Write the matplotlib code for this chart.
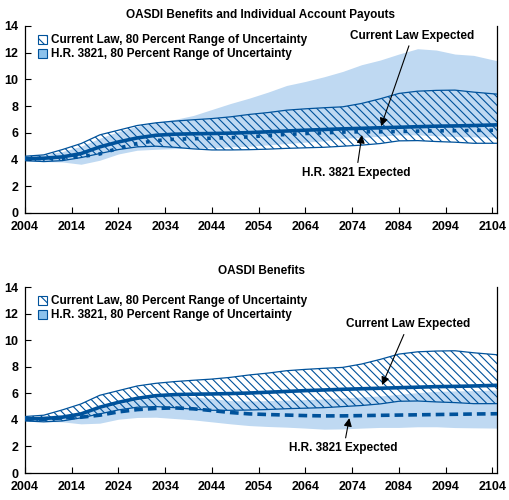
import matplotlib
matplotlib.use("Agg")
from matplotlib import pyplot as plt
from matplotlib.patches import Patch

plt.rcParams['font.family'] = ['Liberation Sans', 'DejaVu Sans']
plt.rcParams['font.weight'] = 'bold'
plt.rcParams['hatch.linewidth'] = 0.8

DARK = '#00529b'
LIGHT = '#bfd9f2'
SWATCH = '#8cc2ec'

years = [2004, 2008, 2012, 2016, 2020, 2024, 2028, 2032, 2036, 2040, 2044, 2048, 2052,
         2056, 2060, 2064, 2068, 2072, 2076, 2080, 2084, 2088, 2092, 2096, 2100, 2105]

# current law (same in both panels)
cl_mid = [4.07, 4.1, 4.2, 4.45, 4.95, 5.32, 5.62, 5.82, 5.9, 5.93, 5.95, 5.98, 6.02,
          6.08, 6.14, 6.2, 6.25, 6.3, 6.34, 6.38, 6.42, 6.46, 6.5, 6.52, 6.55, 6.6]
cl_high = [4.25, 4.35, 4.75, 5.2, 5.85, 6.2, 6.55, 6.75, 6.88, 6.98, 7.07, 7.2, 7.38,
           7.52, 7.7, 7.8, 7.88, 7.95, 8.2, 8.55, 8.95, 9.12, 9.18, 9.2, 9.05, 8.9]
cl_low = [3.92, 3.85, 3.92, 4.15, 4.45, 4.75, 4.95, 5.0, 4.92, 4.8, 4.72, 4.72, 4.74,
          4.78, 4.84, 4.88, 4.92, 5.0, 5.08, 5.2, 5.4, 5.42, 5.35, 5.3, 5.22, 5.22]

# H.R. 3821, benefits plus individual account payouts
hr_pay_mid = [4.07, 4.08, 4.1, 4.22, 4.42, 4.85, 5.2, 5.42, 5.52, 5.56, 5.6, 5.64, 5.7,
              5.8, 5.88, 5.95, 6.0, 6.06, 6.08, 6.08, 6.1, 6.13, 6.15, 6.16, 6.18, 6.2]
hr_pay_high = [4.2, 4.35, 4.6, 5.0, 5.6, 6.1, 6.5, 6.8, 7.0, 7.3, 7.75, 8.2, 8.6,
               9.05, 9.55, 9.85, 10.2, 10.6, 11.1, 11.45, 11.9, 12.3, 12.2, 11.9, 11.8, 11.4]
hr_pay_low = [3.89, 3.85, 3.82, 3.65, 3.95, 4.42, 4.7, 4.77, 4.82, 4.85, 4.9, 4.95, 5.0,
              5.1, 5.2, 5.3, 5.4, 5.6, 5.65, 5.75, 5.85, 5.85, 5.78, 5.72, 5.7, 5.7]

# H.R. 3821, benefits only
hr_ben_mid = [4.08, 4.05, 4.15, 4.2, 4.35, 4.6, 4.77, 4.86, 4.9, 4.83, 4.7, 4.55, 4.45,
              4.4, 4.36, 4.32, 4.3, 4.3, 4.32, 4.34, 4.36, 4.38, 4.4, 4.42, 4.44, 4.46]
hr_ben_high = [4.2, 4.3, 4.4, 4.55, 4.85, 5.2, 5.5, 5.7, 5.8, 5.72, 5.6, 5.45, 5.42,
               5.45, 5.48, 5.52, 5.58, 5.65, 5.72, 5.8, 5.92, 6.05, 6.15, 6.18, 6.2, 6.25]
hr_ben_low = [3.92, 3.88, 3.85, 3.7, 3.75, 4.05, 4.18, 4.2, 4.1, 4.0, 3.85, 3.7, 3.57,
              3.5, 3.45, 3.38, 3.3, 3.32, 3.38, 3.43, 3.43, 3.48, 3.48, 3.42, 3.4, 3.38]

x_ticks = list(range(2004, 2105, 10))
y_ticks = [0, 2, 4, 6, 8, 10, 12, 14]

FS = 8.5


def draw_panel(ax, hr_low, hr_high, hr_mid, hr_style, cl_note, hr_note):
    ax.fill_between(years, hr_low, hr_high, color=LIGHT, lw=0, zorder=1)
    ax.fill_between(years, cl_low, cl_high, facecolor='none', edgecolor=DARK,
                    hatch='\\\\\\\\', lw=0, zorder=2)
    ax.plot(years, cl_high, color=DARK, lw=0.9, zorder=3)
    ax.plot(years, cl_low, color=DARK, lw=0.9, zorder=3)
    ax.plot(years, hr_mid, color=DARK, lw=2.6, linestyle=hr_style,
            dash_capstyle='butt', zorder=4)
    ax.plot(years, cl_mid, color=DARK, lw=2.6, solid_capstyle='butt', zorder=5)

    ax.set_xlim(2004, 2105)
    ax.set_ylim(0, 14)
    ax.set_xticks(x_ticks)
    ax.set_yticks(y_ticks)
    ax.tick_params(direction='in', length=4.5, width=0.8, labelsize=FS + 0.5)
    ax.tick_params(axis='x', pad=6)
    ax.tick_params(axis='y', pad=5)
    ax.spines['top'].set_visible(False)
    for s in ['left', 'bottom', 'right']:
        ax.spines[s].set_linewidth(0.9)

    handles = [Patch(facecolor='white', edgecolor=DARK, hatch='\\\\\\', lw=0.8),
               Patch(facecolor=SWATCH, edgecolor=DARK, lw=0.8)]
    labels = ['Current Law, 80 Percent Range of Uncertainty',
              'H.R. 3821, 80 Percent Range of Uncertainty']
    ax.legend(handles, labels, loc='upper left', bbox_to_anchor=(0.028, 0.955),
              frameon=False, fontsize=FS, handlelength=0.75, handleheight=0.75,
              handletextpad=0.35, labelspacing=0.17, borderpad=0, borderaxespad=0)

    arrow = dict(arrowstyle='-|>', color='black', lw=0.8,
                 mutation_scale=12, shrinkA=1, shrinkB=0)
    ax.annotate('Current Law Expected', xy=cl_note[0], xytext=cl_note[1],
                ha='center', va='center', fontsize=FS, arrowprops=arrow, zorder=6)
    ax.annotate('H.R. 3821 Expected', xy=hr_note[0], xytext=hr_note[1],
                ha='center', va='center', fontsize=FS, arrowprops=arrow, zorder=6)


fig = plt.figure(figsize=(5.09, 5.0), dpi=100)
ax1 = fig.add_axes([25 / 509, 1 - 213 / 500, 472 / 509, 187 / 500])
ax2 = fig.add_axes([25 / 509, 1 - 473 / 500, 472 / 509, 186 / 500])

draw_panel(ax1, hr_pay_low, hr_pay_high, hr_pay_mid, (0, (1, 2.4)),
           ((2080.2, 6.5), (2086.9, 13.27)), ((2076.1, 5.84), (2074.9, 3.02)))
draw_panel(ax2, hr_ben_low, hr_ben_high, hr_ben_mid, (0, (2.4, 1.4)),
           ((2080.4, 6.62), (2086.0, 11.18)), ((2073.4, 4.13), (2072.2, 1.88)))

fig.text(261 / 509, 1 - 15 / 500, 'OASDI Benefits and Individual Account Payouts',
         ha='center', va='center', fontsize=FS)
fig.text(261 / 509, 1 - 271 / 500, 'OASDI Benefits',
         ha='center', va='center', fontsize=FS)

fig.savefig('out.png', dpi=100)
